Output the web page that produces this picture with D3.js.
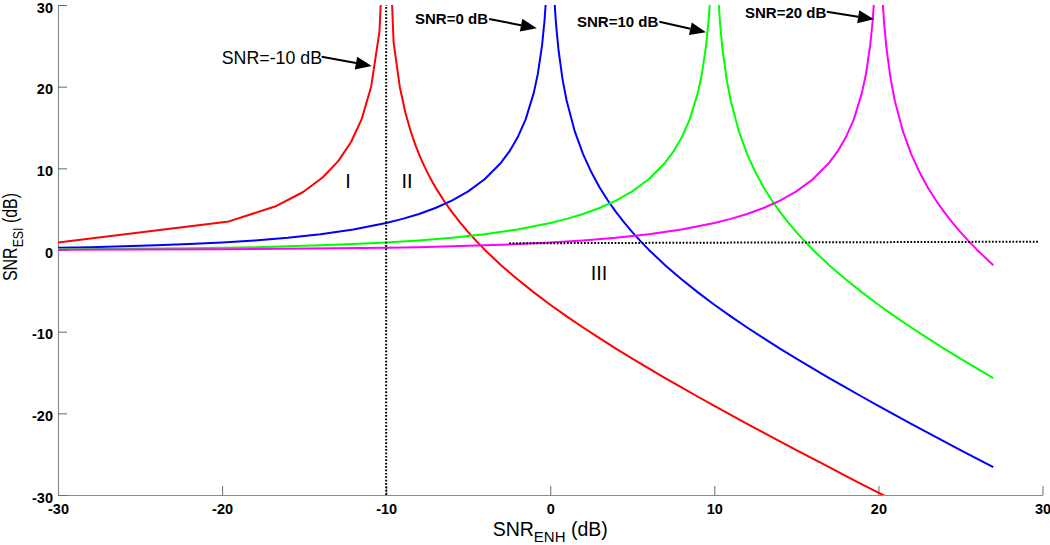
<!DOCTYPE html>
<html>
<head>
<meta charset="utf-8">
<script src="https://cdn.jsdelivr.net/npm/d3@7"></script>
<style>
  html, body { margin: 0; padding: 0; background: #fff; }
  svg { display: block; }
  text { font-family: "Liberation Sans", Arial, Helvetica, sans-serif; }
</style>
</head>
<body>
<svg id="chart" width="1050" height="545"></svg>
<script>
// ---- data ----
const xTicks = [-30, -20, -10, 0, 10, 20, 30];
const yTicks = [-30, -20, -10, 0, 10, 20, 30];

const redX = [-30, -19.586, -16.778, -15.086, -13.872, -12.924, -12.147, -11.487, -10.915, -10.410,
  -9.957, -9.547, -9.172, -8.827, -8.508, -8.210, -7.932, -7.670, -7.423, -7.190, -6.968,
  -6.5, -6, -5.5, -5, -4.5, -4, -3, -2, -1, 0, 1, 2, 3, 4, 5, 6, 7, 8, 9, 10, 11, 12, 13, 14, 15,
  16, 17, 18, 19, 20, 21];
const redY = [0.92, 3.50, 5.32, 7.07, 8.88, 10.88, 13.19, 16.06, 20.00, 26.73,
  46.04, 25.42, 20.00, 16.80, 14.54, 12.81, 11.41, 10.24, 9.23, 8.36, 7.58,
  6.09, 4.66, 3.37, 2.18, 1.08, 0.04, -1.86, -3.59, -5.19, -6.70, -8.12, -9.49, -10.80, -12.07, -13.30, -14.50,
  -15.68, -16.83, -17.97, -19.08, -20.19, -21.28, -22.36, -23.43, -24.50,
  -25.55, -26.60, -27.65, -28.69, -29.72, -30.75];

const blueX = [-30, -28, -26, -24, -22, -20, -18, -16, -14, -12, -10, -9, -8, -7, -6, -5, -4, -3, -2.5, -2,
  -1.5, -1, -0.75, -0.5, -0.35, -0.25, -0.15,
  0.15, 0.25, 0.35, 0.5, 0.75, 1, 1.5, 2, 2.5, 3, 3.5, 4, 4.5, 5, 5.5, 6,
  7, 8, 9, 10, 11, 12, 13, 14, 15, 16, 17, 18, 19, 20, 21, 22, 23, 24, 25, 26, 27];
const blueY = [0.28, 0.35, 0.45, 0.57, 0.72, 0.92, 1.17, 1.50, 1.93, 2.51, 3.30, 3.81, 4.41, 5.14, 6.04, 7.18, 8.66, 10.69, 12.04, 13.74,
  15.99, 19.27, 21.65, 25.05, 28.07, 30.94, 35.33,
  35.18, 30.69, 27.71, 24.55, 20.90, 18.27, 14.49, 11.74, 9.54, 7.69, 6.09, 4.66, 3.37, 2.18, 1.08, 0.04,
  -1.86, -3.59, -5.19, -6.70, -8.12, -9.49, -10.80, -12.07, -13.30, -14.50, -15.68, -16.83, -17.97, -19.08,
  -20.19, -21.28, -22.36, -23.43, -24.50, -25.55, -26.60];

const greenX = [-30, -26, -22, -20, -18, -16, -14, -12, -10, -8, -6, -4, -2, 0, 1, 2, 3, 4, 5, 6, 7, 7.5, 8,
  8.5, 9, 9.25, 9.5, 9.65, 9.75, 9.85,
  10.15, 10.25, 10.35, 10.5, 10.75, 11, 11.5, 12, 12.5, 13, 13.5, 14, 14.5, 15, 15.5, 16,
  17, 18, 19, 20, 21, 22, 23, 24, 25, 26, 27];
const greenY = [0.09, 0.14, 0.22, 0.28, 0.35, 0.45, 0.57, 0.72, 0.92, 1.17, 1.50, 1.93, 2.51, 3.30, 3.81, 4.41, 5.14, 6.04, 7.18, 8.66, 10.69, 12.04, 13.74,
  15.99, 19.27, 21.65, 25.05, 28.07, 30.94, 35.33,
  35.18, 30.69, 27.71, 24.55, 20.90, 18.27, 14.49, 11.74, 9.54, 7.69, 6.09, 4.66, 3.37, 2.18, 1.08, 0.04,
  -1.86, -3.59, -5.19, -6.70, -8.12, -9.49, -10.80, -12.07, -13.30, -14.50, -15.68];

const magentaX = [-30, -20, -10, -8, -6, -4, -2, 0, 2, 4, 6, 8, 10, 11, 12, 13, 14, 15, 16, 17, 17.5, 18,
  18.5, 19, 19.25, 19.5, 19.65, 19.75, 19.85,
  20.15, 20.25, 20.35, 20.5, 20.75, 21, 21.5, 22, 22.5, 23, 23.5, 24, 24.5, 25, 25.5, 26, 27];
const magentaY = [0.03, 0.09, 0.28, 0.35, 0.45, 0.57, 0.72, 0.92, 1.17, 1.50, 1.93, 2.51, 3.30, 3.81, 4.41, 5.14, 6.04, 7.18, 8.66, 10.69, 12.04, 13.74,
  15.99, 19.27, 21.65, 25.05, 28.07, 30.94, 35.33,
  35.18, 30.69, 27.71, 24.55, 20.90, 18.27, 14.49, 11.74, 9.54, 7.69, 6.09, 4.66, 3.37, 2.18, 1.08, 0.04, -1.86];

// region boundaries (dotted)
const vLineX = [-10, -10];
const vLineY = [-30, 30];
const hLineX = [-2.5, 29.8];
const hLineY = [0.82, 1.02];

// annotation labels
const annoLabels = ["SNR=-10 dB", "SNR=0 dB", "SNR=10 dB", "SNR=20 dB"];
const annoBold   = [false, true, true, true];
const annoTextX  = [-20.02, -8.24, 1.63, 11.87];
const annoTextY  = [22.78, 27.67, 27.31, 28.37];
const annoFromX  = [-13.93, -3.73, 6.65, 16.85];
const annoFromY  = [23.67, 28.29, 27.96, 29.18];
const annoTipX   = [-10.88, -0.82, 9.49, 19.73];
const annoTipY   = [22.53, 27.15, 26.66, 28.25];

const regionLabels = ["I", "II", "III"];
const regionX = [-12.33, -8.73, 2.97];
const regionY = [7.65, 7.65, -3.67];

// ---- drawing ----
(function () {
const svg = d3.select("#chart");
const mL = 58, mR = 1042.5, mT = 5, mB = 495;

const x = d3.scaleLinear().domain([-30, 30]).range([mL, mR]);
const y = d3.scaleLinear().domain([-30, 30]).range([mB, mT]);

svg.append("defs").append("clipPath").attr("id", "plotclip")
  .append("rect").attr("x", mL).attr("y", mT).attr("width", mR - mL).attr("height", mB - mT);

// axes
const fmt = d => String(d);
const xAxis = d3.axisBottom(x).tickValues(xTicks).tickSizeInner(-9).tickSizeOuter(0).tickFormat(fmt);
const yAxis = d3.axisLeft(y).tickValues(yTicks).tickSizeInner(-9).tickSizeOuter(0).tickFormat(fmt);

const gx = svg.append("g").attr("transform", `translate(0,${mB})`).call(xAxis);
const gy = svg.append("g").attr("transform", `translate(${mL},0)`).call(yAxis);

[gx, gy].forEach(g => {
  g.select(".domain").attr("stroke", "#8a8a8a").attr("stroke-width", 1.2);
  g.selectAll(".tick line").attr("stroke", "#6a6a6a").attr("stroke-width", 1);
  g.selectAll(".tick text").attr("fill", "#000").attr("font-size", 14.5).attr("font-weight", "bold")
    .style("font-family", '"Liberation Sans", Arial, sans-serif');
});
gx.selectAll(".tick text").attr("y", 19).attr("dy", 0);
gy.selectAll(".tick text").attr("x", -5).attr("dy", "0.5em");

// plot lines
const plot = svg.append("g").attr("clip-path", "url(#plotclip)");
const line = d3.line().x(d => x(d[0])).y(d => y(d[1]));
const series = [
  {xs: redX, ys: redY, color: "#ff0000"},
  {xs: blueX, ys: blueY, color: "#0000ff"},
  {xs: greenX, ys: greenY, color: "#00ff00"},
  {xs: magentaX, ys: magentaY, color: "#ff00ff"}
];
series.forEach(s => {
  const pts = s.xs.map((v, i) => [v, s.ys[i]]);
  plot.append("path").datum(pts).attr("d", line)
    .attr("fill", "none").attr("stroke", s.color).attr("stroke-width", 2)
    .attr("stroke-linejoin", "round");
});

// dotted boundaries
[[vLineX, vLineY], [hLineX, hLineY]].forEach(([xs, ys]) => {
  plot.append("path").datum(xs.map((v, i) => [v, ys[i]])).attr("d", line)
    .attr("fill", "none").attr("stroke", "#000").attr("stroke-width", 2)
    .attr("stroke-dasharray", "1.7,1.7");
});

// region labels
regionLabels.forEach((t, i) => {
  svg.append("text").attr("x", x(regionX[i])).attr("y", y(regionY[i]))
    .attr("text-anchor", "middle").attr("font-size", 20).attr("fill", "#000").text(t);
});

// annotations with arrows
annoLabels.forEach((t, i) => {
  svg.append("text").attr("x", x(annoTextX[i])).attr("y", y(annoTextY[i]))
    .attr("font-size", annoBold[i] ? 15 : 17.8)
    .attr("font-weight", annoBold[i] ? "bold" : "normal")
    .attr("fill", "#000").text(t);
  const x0 = x(annoFromX[i]), y0 = y(annoFromY[i]);
  const x1 = x(annoTipX[i]), y1 = y(annoTipY[i]);
  const ang = Math.atan2(y1 - y0, x1 - x0);
  const L = 16, hw = 6.5;
  const bx = x1 - L * Math.cos(ang), by = y1 - L * Math.sin(ang);
  svg.append("line").attr("x1", x0).attr("y1", y0).attr("x2", bx).attr("y2", by)
    .attr("stroke", "#000").attr("stroke-width", 2);
  const px = -Math.sin(ang) * hw, py = Math.cos(ang) * hw;
  svg.append("path")
    .attr("d", `M${x1},${y1}L${bx + px},${by + py}L${bx - px},${by - py}Z`)
    .attr("fill", "#000");
});

// axis titles
const xt = svg.append("text").attr("x", (mL + mR) / 2).attr("y", 536)
  .attr("text-anchor", "middle").attr("font-size", 19.5).attr("fill", "#000");
xt.append("tspan").text("SNR");
xt.append("tspan").attr("font-size", 15).attr("dy", 6).text("ENH");
xt.append("tspan").attr("dy", -6).text(" (dB)");

const yt = svg.append("text").attr("transform", `translate(17,237) rotate(-90) scale(0.82,1)`)
  .attr("text-anchor", "middle").attr("font-size", 19.5).attr("fill", "#000");
yt.append("tspan").text("SNR");
yt.append("tspan").attr("font-size", 15).attr("dy", 6).text("ESI");
yt.append("tspan").attr("dy", -6).text(" (dB)");
})();
</script>
</body>
</html>
